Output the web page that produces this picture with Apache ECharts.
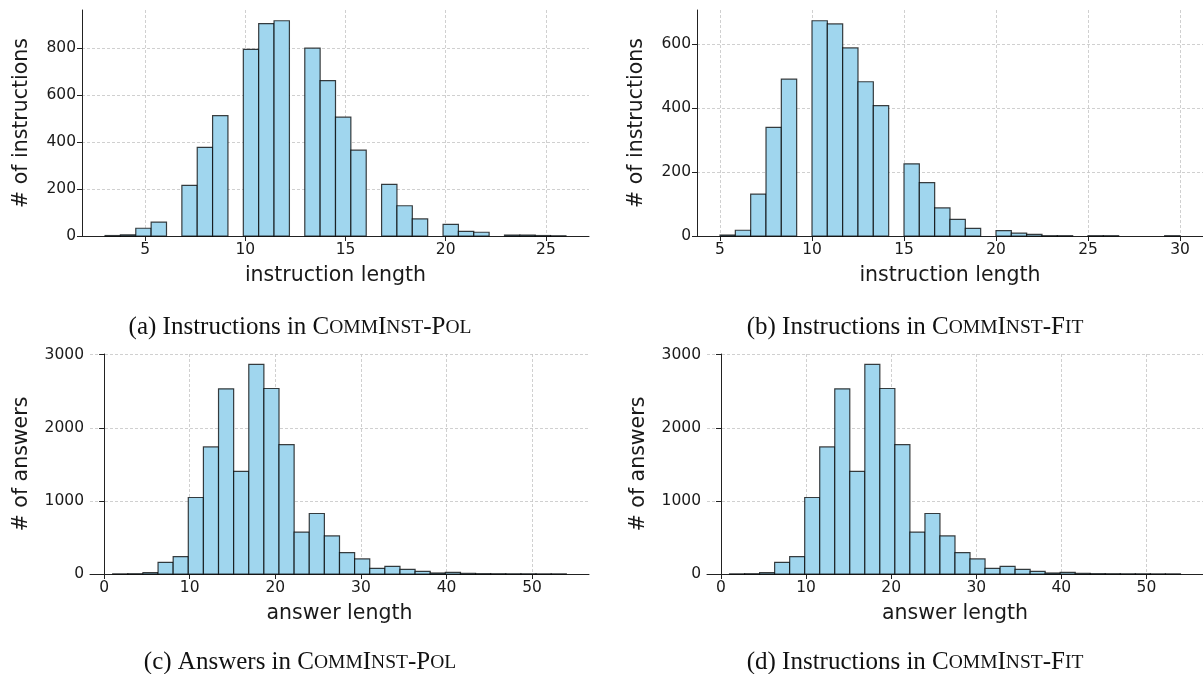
<!DOCTYPE html>
<html>
<head>
<meta charset="utf-8">
<script src="https://cdn.jsdelivr.net/npm/echarts@6/dist/echarts.min.js"></script>
<style>
html,body{margin:0;padding:0;background:#fff;}
#chart{width:1203px;height:674px;}
</style>
</head>
<body>
<div id="chart"></div>
<script>
// ---- data (histograms, 30 bins each) ----
const rangeA = [3, 26];   // instruction length, COMMINST-POL
const countsA = [2, 5, 33, 59, 0, 216, 378, 513, 0, 796, 906, 918, 0, 801, 663, 507, 366, 0, 220, 129, 73, 0, 50, 20, 16, 0, 4, 4, 2, 1];
const rangeB = [5, 30];   // instruction length, COMMINST-FIT
const countsB = [3, 18, 131, 340, 491, 0, 674, 664, 589, 483, 408, 0, 226, 167, 88, 52, 24, 0, 17, 9, 5, 1, 1, 0, 1, 1, 0, 0, 0, 1];
const rangeC = [1, 54];   // answer length, COMMINST-POL
const countsC = [2, 4, 18, 160, 238, 1047, 1738, 2533, 1404, 2867, 2538, 1770, 572, 828, 521, 293, 206, 78, 105, 64, 37, 14, 23, 9, 5, 4, 3, 3, 2, 2];
const rangeD = [1, 54];   // answer length, COMMINST-FIT
const countsD = [2, 4, 18, 160, 238, 1047, 1738, 2533, 1404, 2867, 2538, 1770, 572, 828, 521, 293, 206, 78, 105, 64, 37, 14, 23, 9, 5, 4, 3, 3, 2, 2];

const xTicksA = [5, 10, 15, 20, 25];
const xTicksB = [5, 10, 15, 20, 25, 30];
const xTicksC = [0, 10, 20, 30, 40, 50];
const xTicksD = [0, 10, 20, 30, 40, 50];
const yTicksA = [0, 200, 400, 600, 800];
const yTicksB = [0, 200, 400, 600];
const yTicksC = [0, 1000, 2000, 3000];
const yTicksD = [0, 1000, 2000, 3000];

const captions = [
  {lab: '(a) Instructions in ', parts: [['n','C'],['s','OMM'],['n','I'],['s','NST'],['n','-P'],['s','OL']]},
  {lab: '(b) Instructions in ', parts: [['n','C'],['s','OMM'],['n','I'],['s','NST'],['n','-F'],['s','IT']]},
  {lab: '(c) Answers in ', parts: [['n','C'],['s','OMM'],['n','I'],['s','NST'],['n','-P'],['s','OL']]},
  {lab: '(d) Instructions in ', parts: [['n','C'],['s','OMM'],['n','I'],['s','NST'],['n','-F'],['s','IT']]}
];

// ---- build ----
function binRows(range, counts) {
  const n = counts.length, w = (range[1] - range[0]) / n;
  return counts.map((c, i) => [range[0] + i * w, range[0] + (i + 1) * w, c]);
}

const panels = [
  {range: rangeA, counts: countsA, xt: xTicksA, yt: yTicksA, xname: 'instruction length', yname: '# of instructions',
   grid: {left: 82, top: 10, width: 507, height: 226}, xmin: 1.85, xmax: 27.15, ymax: 963.9, ygap: 50},
  {range: rangeB, counts: countsB, xt: xTicksB, yt: yTicksB, xname: 'instruction length', yname: '# of instructions',
   grid: {left: 697, top: 10, width: 510, height: 226}, xmin: 3.75, xmax: 31.25, ymax: 707.7, ygap: 50},
  {range: rangeC, counts: countsC, xt: xTicksC, yt: yTicksC, xname: 'answer length', yname: '# of answers',
   grid: {left: 90, top: 354, width: 499, height: 220}, xmin: -1.65, xmax: 56.65, ymax: 3010, ygap: 58},
  {range: rangeD, counts: countsD, xt: xTicksD, yt: yTicksD, xname: 'answer length', yname: '# of answers',
   grid: {left: 707, top: 354, width: 499, height: 220}, xmin: -1.65, xmax: 56.65, ymax: 3010, ygap: 58}
];

const TXT = '#1a1a1a';
const tickFont = {fontFamily: 'DejaVu Sans', fontSize: 15.5, color: TXT};
const nameFont = {fontFamily: 'DejaVu Sans', fontSize: 20.5, color: TXT};
const gridLine = {show: true, lineStyle: {color: '#c4c4c4', width: 0.8, type: [3, 2]}};
const plain = v => String(v);

const grids = [], xAxes = [], yAxes = [], series = [];
panels.forEach((p, i) => {
  grids.push(Object.assign({containLabel: false}, p.grid));
  xAxes.push({
    type: 'value', gridIndex: i, min: p.xmin, max: p.xmax,
    name: p.xname, nameLocation: 'middle', nameGap: 29, nameTextStyle: nameFont,
    axisLine: {show: true, onZero: false, lineStyle: {color: '#222', width: 1}},
    axisTick: {show: true, length: 5, customValues: p.xt, lineStyle: {color: '#222'}},
    axisLabel: Object.assign({customValues: p.xt, margin: 6, formatter: plain}, tickFont),
    splitLine: gridLine
  });
  yAxes.push({
    type: 'value', gridIndex: i, min: 0, max: p.ymax,
    name: p.yname, nameLocation: 'middle', nameGap: p.ygap, nameTextStyle: nameFont,
    axisLine: {show: true, lineStyle: {color: '#222', width: 1}},
    axisTick: {show: true, length: 5, customValues: p.yt, lineStyle: {color: '#222'}},
    axisLabel: Object.assign({customValues: p.yt, margin: 6, formatter: plain}, tickFont),
    splitLine: gridLine
  });
  series.push({
    type: 'custom', xAxisIndex: i, yAxisIndex: i,
    data: binRows(p.range, p.counts),
    encode: {x: [0, 1], y: 2},
    renderItem: function (params, api) {
      const c = api.value(2);
      if (!c) return null;
      const p0 = api.coord([api.value(0), c]);
      const p1 = api.coord([api.value(1), 0]);
      return {
        type: 'rect',
        shape: {x: p0[0], y: p0[1], width: p1[0] - p0[0], height: p1[1] - p0[1]},
        style: {fill: '#a0d6ee', stroke: 'rgba(0,0,0,0.75)', lineWidth: 1.2}
      };
    }
  });
});

const capPos = [[300, 325], [915, 325], [300, 660], [915, 660]];
const graphic = captions.map((c, i) => {
  let txt = '{n|' + c.lab + '}';
  c.parts.forEach(pt => { txt += '{' + pt[0] + '|' + pt[1] + '}'; });
  return {
    type: 'text', x: capPos[i][0], y: capPos[i][1],
    style: {
      text: txt, align: 'center', verticalAlign: 'middle',
      rich: {
        n: {fontFamily: 'Liberation Serif', fontSize: 25, fill: '#111', verticalAlign: 'bottom', lineHeight: 29},
        s: {fontFamily: 'Liberation Serif', fontSize: 19.5, fill: '#111', verticalAlign: 'bottom', lineHeight: 29, padding: [0, 0, 1.5, 0]}
      }
    }
  };
});

const chart = echarts.init(document.getElementById('chart'), null, {renderer: 'canvas'});
chart.setOption({
  animation: false,
  backgroundColor: '#fff',
  grid: grids, xAxis: xAxes, yAxis: yAxes, series: series, graphic: graphic
});
</script>
</body>
</html>
